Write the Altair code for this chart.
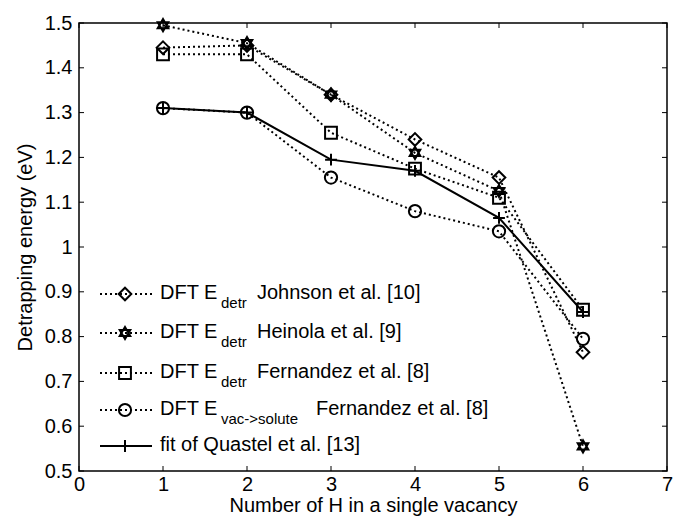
import altair as alt
import pandas as pd

# ---- data ----
n_h = [1, 2, 3, 4, 5, 6]
johnson = [1.445, 1.45, 1.34, 1.24, 1.155, 0.765]
heinola = [1.495, 1.455, 1.34, 1.21, 1.125, 0.555]
fernandez = [1.43, 1.43, 1.255, 1.175, 1.11, 0.86]
vac_solute = [1.31, 1.30, 1.155, 1.08, 1.035, 0.795]
quastel = [1.31, 1.30, 1.195, 1.17, 1.065, 0.855]

x_ticks = [0, 1, 2, 3, 4, 5, 6, 7]
y_ticks = [0.5, 0.6, 0.7, 0.8, 0.9, 1.0, 1.1, 1.2, 1.3, 1.4, 1.5]

legend_main = ["DFT E", "DFT E", "DFT E", "DFT E", "fit of Quastel et al. [13]"]
legend_sub = ["detr", "detr", "detr", "vac->solute", ""]
legend_rest = ["Johnson et al. [10]", "Heinola et al. [9]", "Fernandez et al. [8]",
               "Fernandez et al. [8]", ""]

# ---- styling ----
W, H = 588, 448
FONT = "Liberation Sans"
FS = 20
HEX = "M0,-1L0.866,0.5L-0.866,0.5Z M0,1L-0.866,-0.5L0.866,-0.5Z"
PLUS = "M-1,0L1,0M0,-1L0,1"

series = [
    (johnson, "diamond", True, 160),
    (heinola, HEX, True, 150),
    (fernandez, "square", True, 140),
    (vac_solute, "circle", True, 150),
    (quastel, PLUS, False, 140),
]

xs = alt.Scale(domain=[0, 7], nice=False, zero=False)
ys = alt.Scale(domain=[0.5, 1.5], nice=False, zero=False)

xaxis = alt.Axis(values=x_ticks, format="d", ticks=False, domain=False, grid=False,
                 labelFlush=False, labelPadding=3,
                 title="Number of H in a single vacancy",
                 titleBaseline="alphabetic", titleY=40)
yaxis = alt.Axis(values=y_ticks, format="~g", ticks=False, domain=False, grid=False,
                 labelFlush=False, labelPadding=7,
                 title="Detrapping energy (eV)", titlePadding=9)

layers = []
for vals, shape, dotted, size in series:
    df = pd.DataFrame({"n": n_h, "e": vals})
    base = alt.Chart(df)
    kw = dict(color="black", strokeWidth=2)
    if dotted:
        kw.update(strokeDash=[2, 3], strokeCap="butt")
    enc = dict(x=alt.X("n:Q", scale=xs, axis=xaxis), y=alt.Y("e:Q", scale=ys, axis=yaxis))
    layers.append(base.mark_line(**kw).encode(**enc))
    layers.append(base.mark_point(shape=shape, size=size, filled=False, color="black",
                                  strokeWidth=2, opacity=1).encode(**enc))

# inward ticks on all four sides
xt = alt.Chart(pd.DataFrame({"n": x_ticks}))
yt = alt.Chart(pd.DataFrame({"e": y_ticks}))
TL = 5
layers.append(xt.mark_rule(color="black", strokeWidth=1).encode(
    x=alt.X("n:Q", scale=xs, axis=xaxis), y=alt.value(H), y2=alt.value(H - TL)))
layers.append(xt.mark_rule(color="black", strokeWidth=1).encode(
    x=alt.X("n:Q", scale=xs, axis=xaxis), y=alt.value(0), y2=alt.value(TL)))
layers.append(yt.mark_rule(color="black", strokeWidth=1).encode(
    y=alt.Y("e:Q", scale=ys, axis=yaxis), x=alt.value(0), x2=alt.value(TL)))
layers.append(yt.mark_rule(color="black", strokeWidth=1).encode(
    y=alt.Y("e:Q", scale=ys, axis=yaxis), x=alt.value(W), x2=alt.value(W - TL)))

# manual legend (with subscripts)
one = alt.Chart(pd.DataFrame({"a": [0]}))
row_y = [271, 310, 350, 387, 423]
for i, (vals, shape, dotted, size) in enumerate(series):
    ry = row_y[i]
    kw = dict(color="black", strokeWidth=2)
    if dotted:
        kw.update(strokeDash=[2, 3], strokeCap="butt")
    layers.append(one.mark_rule(**kw).encode(x=alt.value(21), x2=alt.value(73), y=alt.value(ry)))
    layers.append(one.mark_point(shape=shape, size=size, filled=False, color="black",
                                 strokeWidth=2, opacity=1).encode(x=alt.value(46), y=alt.value(ry)))
    tkw = dict(align="left", baseline="alphabetic", font=FONT, color="black")
    layers.append(one.mark_text(text=legend_main[i], fontSize=FS, **tkw).encode(
        x=alt.value(81), y=alt.value(ry + 5)))
    if legend_sub[i]:
        layers.append(one.mark_text(text=legend_sub[i], fontSize=15, **tkw).encode(
            x=alt.value(142), y=alt.value(ry + 14)))
    if legend_rest[i]:
        rx = 237 if i == 3 else 178
        layers.append(one.mark_text(text=legend_rest[i], fontSize=FS, **tkw).encode(
            x=alt.value(rx), y=alt.value(ry + 5)))

chart = alt.layer(*layers).properties(
    width=W, height=H,
    autosize=alt.AutoSizeParams(type="none"),
    padding={"left": 71, "top": 15, "right": 6, "bottom": 45},
).configure_view(stroke="black", strokeWidth=1.5).configure_axis(
    labelFont=FONT, labelFontSize=FS, labelColor="black",
    titleFont=FONT, titleFontSize=FS, titleFontWeight="normal", titleColor="black",
)

chart.save("out.html", embed_options={"renderer": "svg", "actions": False})
